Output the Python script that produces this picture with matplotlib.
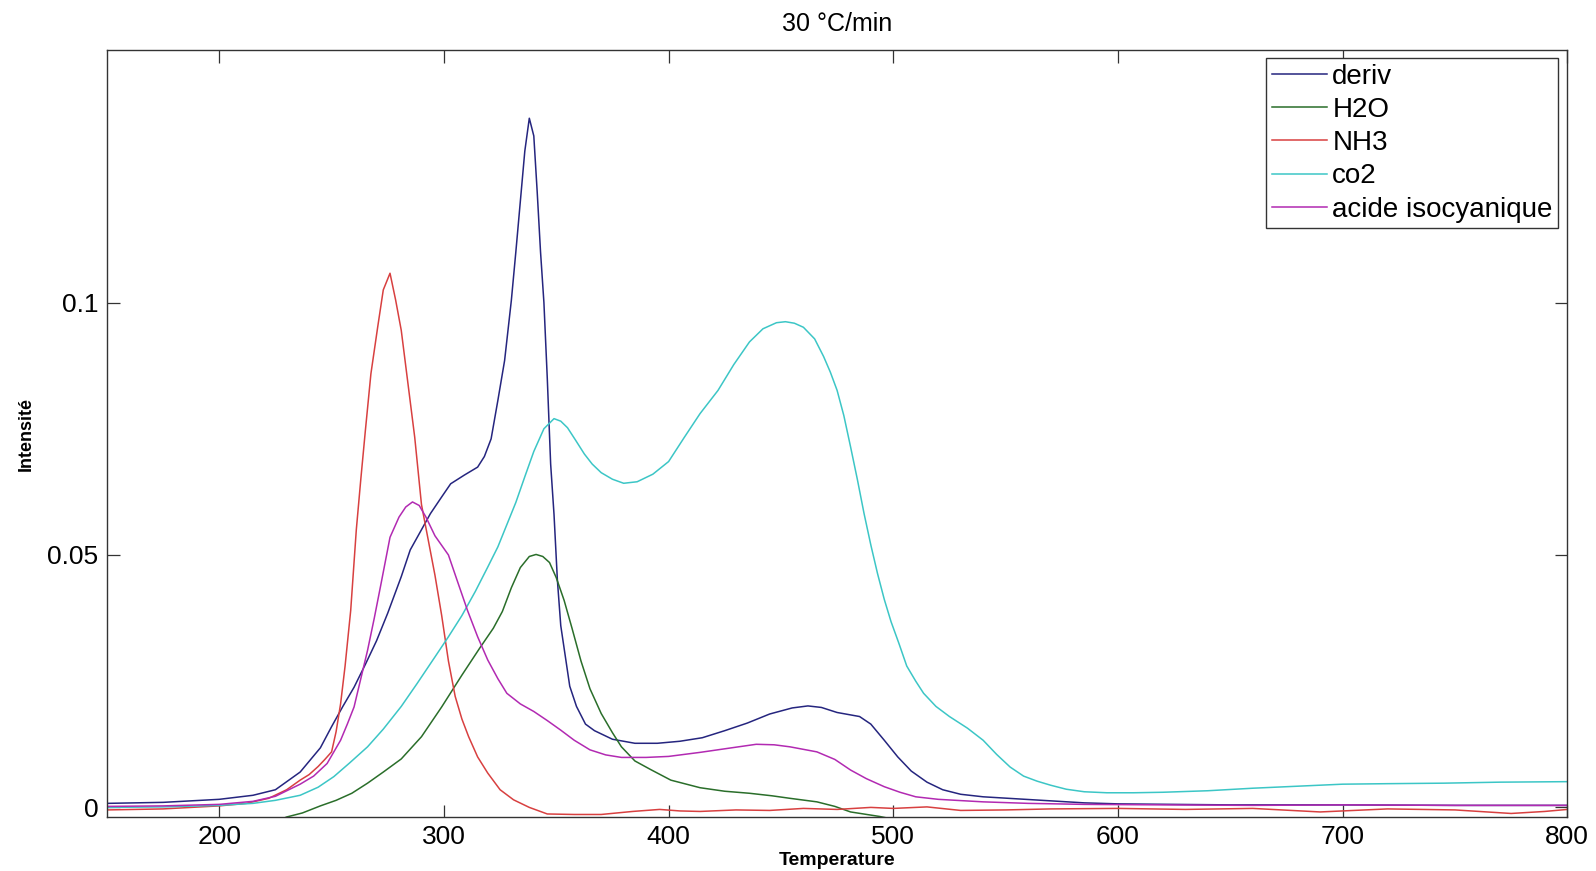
import matplotlib
matplotlib.use("Agg")
import matplotlib.pyplot as plt

# Courbes de la thermogravimetrie a 30 °C/min
t_deriv = [150, 175, 200, 215, 225, 236, 245, 250, 255, 260, 265, 270, 275, 281,
           285, 290, 294, 299, 303, 309, 315, 318, 321, 324, 327, 330, 332, 334,
           336, 338, 340, 341.5, 343, 344.5, 346, 347.5, 349, 350.5, 352, 354,
           356, 359, 363, 367, 375, 385, 395, 405, 415, 425, 435, 445, 455, 462,
           468, 475, 480, 485, 490, 496, 502, 508, 515, 522, 530, 540, 555, 570,
           585, 600, 650, 700, 750, 800]
deriv = [0.0008, 0.0010, 0.0016, 0.0024, 0.0035, 0.0070, 0.0118, 0.0160, 0.0200,
         0.0238, 0.0283, 0.0330, 0.0385, 0.0457, 0.0510, 0.0550, 0.0582, 0.0615,
         0.0641, 0.0658, 0.0674, 0.0695, 0.0730, 0.0806, 0.0885, 0.1004, 0.1100,
         0.1200, 0.1300, 0.1365, 0.1330, 0.1220, 0.1100, 0.1000, 0.0850, 0.0680,
         0.0580, 0.0450, 0.0360, 0.0300, 0.0240, 0.0200, 0.0165, 0.0152, 0.0135,
         0.0127, 0.0127, 0.0131, 0.0138, 0.0152, 0.0167, 0.0185, 0.0197, 0.0201,
         0.0198, 0.0188, 0.0184, 0.0180, 0.0165, 0.0133, 0.0100, 0.0072, 0.0050,
         0.0035, 0.0026, 0.0021, 0.0017, 0.0013, 0.0009, 0.0007, 0.0005, 0.0005,
         0.0004, 0.0004]

t_h2o = [225, 230, 237, 245, 252, 259, 266, 273, 281, 290, 299, 308, 316, 322,
         326, 330, 334, 338, 341, 344, 347, 350, 353.5, 357, 361, 365, 370, 375,
         379, 385, 392, 401, 414, 425, 436, 446, 454, 466, 474, 481, 494, 505]
h2o = [-0.0028, -0.0019, -0.0011, 0.0003, 0.0014, 0.0028, 0.0048, 0.0070, 0.0096,
       0.0140, 0.0199, 0.0262, 0.0316, 0.0355, 0.0388, 0.0435, 0.0475, 0.0497,
       0.0501, 0.0497, 0.0485, 0.0455, 0.0410, 0.0355, 0.0290, 0.0235, 0.0186,
       0.0148, 0.0120, 0.0092, 0.0075, 0.0054, 0.0039, 0.0032, 0.0028, 0.0023,
       0.0018, 0.0011, 0.0002, -0.0009, -0.0018, -0.0028]

t_nh3 = [150, 175, 200, 212, 222, 230, 236, 240, 244, 247, 250, 252, 254, 256,
         258.5, 261, 263, 265, 267.5, 270.5, 273, 276, 278.5, 281, 284, 287, 290,
         293, 296, 299, 302, 305, 308, 311, 315, 319.5, 325, 331, 338, 346, 358,
         370, 384, 396, 405, 414, 430, 445, 460, 475, 490, 500, 515, 530, 550,
         570, 600, 630, 660, 690, 720, 750, 775, 790, 800]
nh3 = [-0.0005, -0.0003, 0.0003, 0.0008, 0.0018, 0.0035, 0.0054, 0.0065, 0.0081,
       0.0095, 0.0110, 0.0150, 0.0205, 0.0280, 0.0390, 0.0550, 0.0650, 0.0745,
       0.0859, 0.0951, 0.1025, 0.1058, 0.1005, 0.0945, 0.0839, 0.0733, 0.0600,
       0.0530, 0.0460, 0.0380, 0.0290, 0.0220, 0.0175, 0.0140, 0.0100, 0.0068,
       0.0035, 0.0015, 0.0000, -0.0013, -0.0014, -0.0014, -0.0008, -0.0004,
       -0.0007, -0.0008, -0.0005, -0.0006, -0.0002, -0.0004, 0.0000, -0.0002,
       0.0001, -0.0006, -0.0005, -0.0003, -0.0002, -0.0004, -0.0002, -0.0009,
       -0.0003, -0.0005, -0.0012, -0.0008, -0.0004]

t_co2 = [150, 175, 200, 215, 225, 236, 244, 251, 258, 266, 273, 281, 288, 296,
         302, 308, 314, 319.5, 324, 328, 332, 336, 340, 344.5, 349, 352, 355,
         358.5, 362.5, 366, 370, 375, 380, 386, 393, 400, 407, 414, 422, 429,
         436, 442, 448, 452, 456, 460, 465, 469, 472, 475, 478, 481, 484, 487,
         490, 493, 496, 499, 502.5, 506, 510, 513.5, 519, 525, 533, 540, 546,
         552, 558, 564, 570, 577, 585, 595, 607, 620, 640, 660, 680, 700, 720,
         745, 770, 800]
co2 = [0.0000, 0.0001, 0.0004, 0.0008, 0.0014, 0.0024, 0.0040, 0.0061, 0.0088,
       0.0120, 0.0155, 0.0200, 0.0245, 0.0298, 0.0338, 0.0380, 0.0428, 0.0476,
       0.0516, 0.0560, 0.0604, 0.0655, 0.0705, 0.0750, 0.0770, 0.0765, 0.0752,
       0.0728, 0.0700, 0.0680, 0.0663, 0.0650, 0.0642, 0.0645, 0.0660, 0.0685,
       0.0733, 0.0780, 0.0826, 0.0877, 0.0922, 0.0948, 0.0960, 0.0962, 0.0959,
       0.0951, 0.0928, 0.0893, 0.0862, 0.0826, 0.0776, 0.0714, 0.0650, 0.0582,
       0.0520, 0.0463, 0.0412, 0.0368, 0.0325, 0.0280, 0.0250, 0.0226, 0.0200,
       0.0180, 0.0157, 0.0133, 0.0105, 0.0080, 0.0062, 0.0052, 0.0044, 0.0036,
       0.0031, 0.0029, 0.0029, 0.0030, 0.0033, 0.0038, 0.0042, 0.0046, 0.0047,
       0.0048, 0.0050, 0.0051]

t_hnco = [150, 175, 200, 215, 225, 236, 242, 248, 254, 257, 260, 263, 266, 269,
          272, 276, 280, 283, 286, 289, 292, 296, 302, 306, 310.5, 315, 319.5,
          324, 328, 334, 340, 346, 352, 358, 365, 372, 379, 390, 400, 414, 428,
          439, 447, 454, 466, 474, 481, 488, 496, 503, 510, 520, 540, 560, 585,
          620, 660, 700, 750, 800]
hnco = [0.0002, 0.0003, 0.0006, 0.0012, 0.0022, 0.0046, 0.0062, 0.0087, 0.0133,
        0.0165, 0.0199, 0.0255, 0.0311, 0.0375, 0.0443, 0.0535, 0.0575, 0.0595,
        0.0605, 0.0598, 0.0575, 0.0538, 0.0500, 0.0448, 0.0390, 0.0338, 0.0292,
        0.0255, 0.0226, 0.0205, 0.0190, 0.0172, 0.0153, 0.0133, 0.0114, 0.0104,
        0.0099, 0.0099, 0.0101, 0.0109, 0.0118, 0.0125, 0.0124, 0.0120, 0.0110,
        0.0095, 0.0074, 0.0057, 0.0041, 0.0030, 0.0021, 0.0016, 0.0011, 0.0008,
        0.0006, 0.0005, 0.0004, 0.0005, 0.0004, 0.0004]

noms = ["deriv", "H2O", "NH3", "co2", "acide isocyanique"]
couleurs = ["#25257f", "#2a6e2a", "#d84040", "#3cc6c6", "#b22ab2"]

plt.rcParams['font.family'] = ['Liberation Sans', 'DejaVu Sans']

fig = plt.figure(figsize=(15.96, 8.71), dpi=100)
ax = fig.add_axes([0.067, 0.062, 0.915, 0.8805])

series = [(t_deriv, deriv), (t_h2o, h2o), (t_nh3, nh3), (t_co2, co2), (t_hnco, hnco)]
for (t, v), nom, c in zip(series, noms, couleurs):
    ax.plot(t, v, color=c, lw=1.1, label=nom)

ax.set_xlim(150, 800)
ax.set_ylim(-0.0019, 0.15)
ax.set_xticks([200, 300, 400, 500, 600, 700, 800])
ax.set_yticks([0, 0.05, 0.1])
ax.set_yticklabels(["0", "0.05", "0.1"])

for s in ax.spines.values():
    s.set_color("#333333")
    s.set_linewidth(1.0)
ax.tick_params(direction="in", length=9, width=0.9, colors="#333333",
               labelcolor="black", labelsize=19, top=True, right=True, pad=6)

ax.set_title("30 °C/min", fontsize=18, pad=14)
ax.set_xlabel("Temperature", fontsize=14, fontweight="bold", labelpad=2)
ax.set_ylabel("Intensité", fontsize=13, fontweight="bold", labelpad=9)

leg = ax.legend(loc="upper right", bbox_to_anchor=(0.9938, 0.9896),
                borderaxespad=0, fontsize=20, handlelength=2.0,
                handletextpad=0.18, labelspacing=0.26, borderpad=0.2,
                fancybox=False, framealpha=1)
leg.get_frame().set_edgecolor("#333333")
leg.get_frame().set_linewidth(1.0)

fig.savefig("out.png", dpi=100)
